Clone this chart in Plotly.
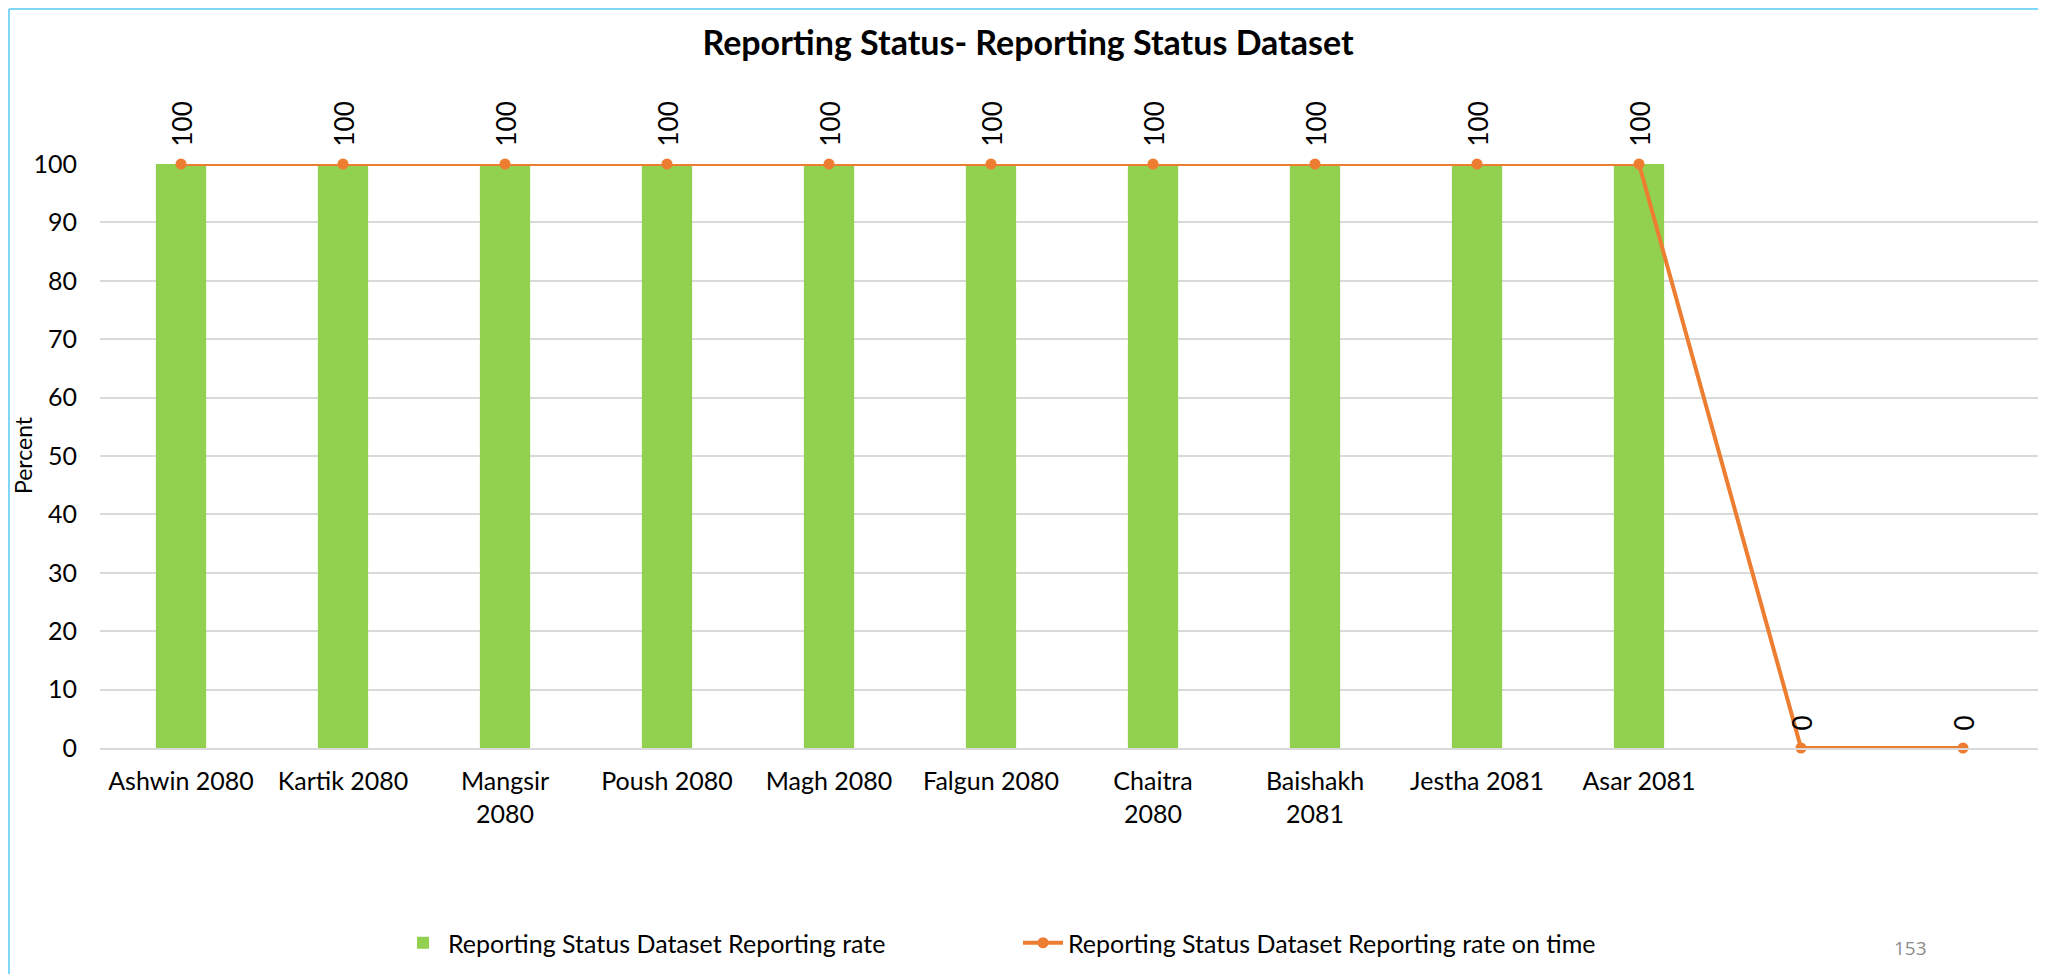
import plotly.graph_objects as go

# data
months = ["Ashwin 2080", "Kartik 2080", "Mangsir<br>2080", "Poush 2080", "Magh 2080",
          "Falgun 2080", "Chaitra<br>2080", "Baishakh<br>2081", "Jestha 2081", "Asar 2081", "", ""]
reporting_rate = [100, 100, 100, 100, 100, 100, 100, 100, 100, 100, None, None]
reporting_rate_on_time = [100, 100, 100, 100, 100, 100, 100, 100, 100, 100, 0, 0]
y_ticks = [0, 10, 20, 30, 40, 50, 60, 70, 80, 90, 100]

FONT = "Lato"
GREEN = "#92D050"
ORANGE = "#ED7D31"
OFF = 8  # default body margin of the page
W, H = 2046 - OFF, 974 - OFF
L, R, T = 100 - OFF, 2, 164 - OFF
B = H - (748 - OFF)

xs = list(range(len(months)))

fig = go.Figure()
fig.add_trace(go.Bar(
    x=xs, y=reporting_rate,
    name="Reporting Status Dataset Reporting rate",
    marker=dict(color=GREEN, line=dict(width=0)),
    width=0.31,
    legend="legend",
))
fig.add_trace(go.Scatter(
    x=xs, y=reporting_rate_on_time,
    name="Reporting Status Dataset Reporting rate on time",
    mode="lines+markers",
    line=dict(color=ORANGE, width=4),
    marker=dict(color=ORANGE, size=11),
    cliponaxis=False,
    legend="legend2",
))

# rotated value labels above each point
for x, v in zip(xs, reporting_rate_on_time):
    fig.add_annotation(
        x=x, y=v, xref="x", yref="y", text=str(v), showarrow=False,
        textangle=-90, yanchor="bottom", xanchor="center", yshift=15,
        font=dict(family=FONT, size=26, color="black"),
    )

plot_w = W - L - R
plot_h = H - T - B

def px_x(p):
    # page pixel -> paper x
    return (p - OFF - L) / plot_w

def px_y(p):
    # page pixel -> paper y
    return (H - B - (p - OFF)) / plot_h

fig.add_annotation(
    x=px_x(23), y=px_y(455), xref="paper", yref="paper", text="Percent",
    xanchor="center", yanchor="middle",
    showarrow=False, textangle=-90, font=dict(family=FONT, size=23, color="black"),
)
fig.add_annotation(
    x=px_x(1910), y=px_y(948), xref="paper", yref="paper", text="153",
    xanchor="center", yanchor="middle",
    showarrow=False, font=dict(family="Open Sans", size=19, color="#8c8c8c"),
)

# frame lines of the slide container, at the edge of the figure
fig.add_shape(type="line", xref="paper", yref="paper",
              x0=px_x(OFF + 1), x1=px_x(OFF + 1), y0=px_y(OFF + 1), y1=px_y(990),
              line=dict(color="#7FD6F7", width=2))
fig.add_shape(type="line", xref="paper", yref="paper",
              x0=px_x(OFF + 1), x1=px_x(2060), y0=px_y(OFF + 1), y1=px_y(OFF + 1),
              line=dict(color="#7FD6F7", width=2))

legend_style = dict(orientation="h", yanchor="middle", xanchor="left",
                    font=dict(family=FONT, size=25), itemwidth=40,
                    bgcolor="rgba(0,0,0,0)")

fig.update_layout(
    width=W, height=H,
    margin=dict(l=L, r=R, t=T, b=B, autoexpand=False),
    paper_bgcolor="white", plot_bgcolor="white",
    font=dict(family=FONT, size=25, color="black"),
    title=dict(text="<b>Reporting Status- Reporting Status Dataset</b>",
               x=px_x(1028), xref="paper", xanchor="center",
               y=1 - (43 - OFF) / H, yanchor="middle",
               font=dict(family=FONT, size=34, color="black")),
    bargap=0.69,
    showlegend=True,
    legend=dict(x=px_x(398), y=px_y(943), **legend_style),
    legend2=dict(x=px_x(1018), y=px_y(943), **legend_style),
)
fig.update_xaxes(
    range=[-0.5, len(months) - 0.5], tickvals=xs, ticktext=months,
    showgrid=False, showline=True, linecolor="#d9d9d9", linewidth=2,
    ticks="", tickfont=dict(family=FONT, size=25), ticklabelstandoff=10,
    fixedrange=True,
)
fig.update_yaxes(
    range=[0, 100], tickvals=y_ticks, showgrid=True, gridcolor="#d9d9d9", gridwidth=1.5,
    zeroline=False, showline=False, ticks="", ticklabelstandoff=22,
    tickfont=dict(family=FONT, size=25),
)

fig.write_html("out.html")
